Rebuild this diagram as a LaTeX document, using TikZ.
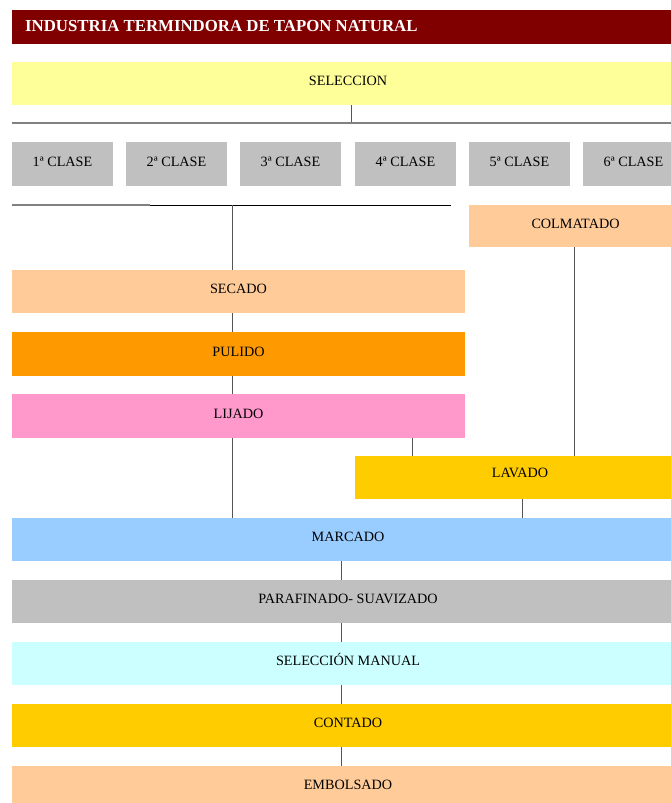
\documentclass[tikz,border=0pt]{standalone}
\usepackage{fontspec}
\setmainfont{Liberation Serif}
\definecolor{titlered}{HTML}{800000}
\definecolor{cyellow}{HTML}{FFFF99}
\definecolor{cgray}{HTML}{C0C0C0}
\definecolor{cpeach}{HTML}{FFCC99}
\definecolor{corange}{HTML}{FF9900}
\definecolor{cpink}{HTML}{FF99CC}
\definecolor{cgold}{HTML}{FFCC00}
\definecolor{cblue}{HTML}{99CCFF}
\definecolor{ccyan}{HTML}{CCFFFF}
\definecolor{linegray}{HTML}{555555}
\begin{document}
\begin{tikzpicture}[x=1pt,y=-1pt,
  box/.style={rectangle, inner sep=0pt, outer sep=0pt, anchor=north west,
    text height=10pt, text depth=6pt,
    font=\fontsize{14.2}{16}\selectfont, text=black},
  link/.style={draw=linegray, line width=0.9pt},
  rule/.style={draw=gray, line width=1.6pt}]
\useasboundingbox (0,0) rectangle (671,803);
\fill[white] (0,0) rectangle (671,803);

% heading bar
\node[box, fill=titlered, minimum width=672pt, minimum height=34pt] (title) at (12,10) {};
\node[anchor=west, inner sep=0pt, text=white, font=\bfseries\fontsize{16.8}{18}\selectfont] (titletext) at (25,26) {INDUSTRIA TERMINDORA DE TAPON NATURAL};

% first selection
\node[box, fill=cyellow, minimum width=672pt, minimum height=43pt] (sel) at (12,62) {SELECCION};

% split into classes
\coordinate (b1) at (351,123);
\coordinate (r1l) at (12,123);
\coordinate (r1r) at (684,123);
\draw[link] (sel.south -| b1) -- (b1);
\draw[rule] (r1l) -- (r1r);

\foreach \i/\x in {1/12,2/126,3/240,4/355,5/469,6/583}{
  \node[box, fill=cgray, minimum width=101pt, minimum height=44pt] (c\i) at (\x,142) {\i ª CLASE};
}

% collecting line for classes 1-4
\coordinate (r2l) at (12,205);
\coordinate (r2m) at (150,205);
\coordinate (r2r) at (451,205);
\coordinate (j2) at (232,205);
\draw[rule, line width=1.2pt] (r2l) -- (r2m);
\draw[draw=black, line width=1pt] (r2m) -- (r2r);

% left branch
\node[box, fill=cpeach, minimum width=453pt, minimum height=43pt] (secado) at (12,270) {SECADO};
\node[box, fill=corange, minimum width=453pt, minimum height=44pt] (pulido) at (12,332) {PULIDO};
\node[box, fill=cpink, minimum width=453pt, minimum height=44pt] (lijado) at (12,394) {LIJADO};

% right branch
\node[box, fill=cpeach, minimum width=213pt, minimum height=42pt] (colmatado) at (469,205) {COLMATADO};
\node[box, fill=cgold, minimum width=330pt, minimum height=43pt, text depth=10pt] (lavado) at (355,456) {LAVADO};

% common line
\node[box, fill=cblue, minimum width=672pt, minimum height=43pt] (marcado) at (12,518) {MARCADO};
\node[box, fill=cgray, minimum width=672pt, minimum height=43pt] (parafinado) at (12,580) {PARAFINADO- SUAVIZADO};
\node[box, fill=ccyan, minimum width=672pt, minimum height=43pt] (manual) at (12,642) {SELECCIÓN MANUAL};
\node[box, fill=cgold, minimum width=672pt, minimum height=43pt] (contado) at (12,704) {CONTADO};
\node[box, fill=cpeach, minimum width=672pt, minimum height=43pt] (embolsado) at (12,766) {EMBOLSADO};

% connectors
\coordinate (xl) at (232,0);
\coordinate (xlij) at (412,0);
\coordinate (xcol) at (574,0);
\coordinate (xlav) at (522,0);
\coordinate (xc) at (341,0);
\draw[link] (j2) -- (secado.north -| j2);
\draw[link] (secado.south -| j2) -- (pulido.north -| j2);
\draw[link] (pulido.south -| j2) -- (lijado.north -| j2);
\draw[link] (lijado.south -| j2) -- (marcado.north -| j2);
\draw[link] (lijado.south -| xlij) -- (lavado.north -| xlij);
\draw[link] (colmatado.south -| xcol) -- (lavado.north -| xcol);
\draw[link] (lavado.south -| xlav) -- (marcado.north -| xlav);
\draw[link] (marcado.south -| xc) -- (parafinado.north -| xc);
\draw[link] (parafinado.south -| xc) -- (manual.north -| xc);
\draw[link] (manual.south -| xc) -- (contado.north -| xc);
\draw[link] (contado.south -| xc) -- (embolsado.north -| xc);
\end{tikzpicture}
\end{document}
